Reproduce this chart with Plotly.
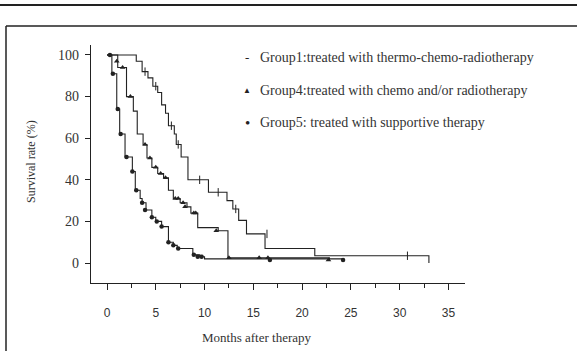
import plotly.graph_objects as go

# ---- data ----
g1_t = [0, 3.0, 3.6, 4.2, 4.7, 5.2, 5.6, 6.0, 6.3, 6.9, 7.1, 7.6, 8.3, 10.4, 12.3, 12.9, 13.5, 14.3, 16.2, 21.3, 33.0]
g1_s = [100, 97, 92, 89, 85, 82, 76, 72, 66, 62, 57, 51, 40, 34, 30, 26, 20.5, 14, 7, 3.5, 0]
g1_ct = [3.9, 5.0, 6.6, 7.3, 9.5, 11.4, 13.2, 16.4, 30.8]
g1_cs = [92, 85, 66, 57, 40, 34, 26, 14, 3.5]

g4_t = [0, 1.1, 2.0, 2.7, 3.1, 3.7, 4.1, 4.6, 5.2, 5.8, 6.3, 6.8, 7.5, 8.2, 8.6, 9.3, 11.4, 12.4, 22.8]
g4_s = [100, 94, 80, 73, 62, 57, 50.5, 46, 43, 41, 35, 31, 29, 27, 24, 17, 15.5, 2.5, 1.5]
g4_ct = [1.0, 1.6, 2.4, 3.9, 4.4, 5.0, 5.5, 6.0, 7.0, 7.3, 7.8, 8.0, 8.9, 9.1, 11.2, 12.5, 15.6, 16.5, 22.7]
g4_cs = [97, 94, 80, 57, 50.5, 46, 43, 41, 31, 31, 29, 27, 24, 24, 15.5, 2.5, 2.5, 2.5, 1.5]

g5_t = [0, 0.5, 1.0, 1.3, 1.85, 2.6, 2.9, 3.4, 3.6, 4.0, 4.6, 5.0, 5.6, 6.3, 6.8, 7.2, 8.8, 9.5, 10.0, 24.2]
g5_s = [100, 91, 74, 62, 51, 44, 35, 31, 29, 25.5, 22, 20, 17.5, 10, 8.5, 7, 4, 3, 2, 1.5]
g5_ct = [0.3, 0.6, 1.1, 1.4, 2.0, 2.6, 3.0, 3.6, 3.9, 4.6, 5.1, 5.6, 6.3, 6.8, 7.3, 8.9, 9.3, 9.7, 16.7, 24.2]
g5_cs = [100, 91, 74, 62, 51, 44, 35, 29, 25.5, 22, 20, 17.5, 10, 8.5, 7, 4, 3, 3, 1.5, 1.5]

x_ticks = [0, 5, 10, 15, 20, 25, 30, 35]
y_ticks = [0, 20, 40, 60, 80, 100]

legend_labels = [
    "Group1:treated with thermo-chemo-radiotherapy",
    "Group4:treated with chemo and/or radiotherapy",
    "Group5: treated with supportive therapy",
]
legend_symbols = ["-", "▲", "•"]
legend_symbol_sizes = [13, 8, 15]

INK = "#222222"

fig = go.Figure()
for t, s in [(g1_t, g1_s), (g4_t, g4_s), (g5_t, g5_s)]:
    fig.add_trace(go.Scatter(x=t, y=s, mode="lines", line=dict(color=INK, width=1.1, shape="hv"),
                             showlegend=False, hoverinfo="skip"))
fig.add_trace(go.Scatter(x=g1_ct, y=g1_cs, mode="markers",
                         marker=dict(symbol="line-ns", size=6, line=dict(color=INK, width=1)), showlegend=False))
fig.add_trace(go.Scatter(x=g4_ct, y=g4_cs, mode="markers",
                         marker=dict(symbol="triangle-up", size=5, color=INK), showlegend=False))
fig.add_trace(go.Scatter(x=g5_ct, y=g5_cs, mode="markers",
                         marker=dict(symbol="circle", size=4.5, color=INK), showlegend=False))

W, H = 577, 351
L, R, T, B = 91, 112, 45, 68
pw, ph = W - L - R, H - T - B

def px(x):
    return (x - L) / pw

def py(y):
    return (H - B - y) / ph

annotations = []
for i, (sym, lab, ss) in enumerate(zip(legend_symbols, legend_labels, legend_symbol_sizes)):
    yy = 57 + i * 33
    annotations.append(dict(x=px(247), y=py(yy), xref="paper", yref="paper", text=sym, showarrow=False,
                            xanchor="center", yanchor="middle",
                            font=dict(family="Liberation Serif", size=ss, color=INK)))
    annotations.append(dict(x=px(258), y=py(yy), xref="paper", yref="paper", text=lab, showarrow=False,
                            xanchor="left", yanchor="middle",
                            font=dict(family="Liberation Serif", size=14, color="#333")))
annotations.append(dict(x=px(257), y=py(337), xref="paper", yref="paper", text="Months after therapy",
                        showarrow=False, xanchor="center", yanchor="middle",
                        font=dict(family="Liberation Serif", size=13, color="#333")))
annotations.append(dict(x=px(31), y=py(162), xref="paper", yref="paper", text="Survival rate (%)",
                        showarrow=False, xanchor="center", yanchor="middle", textangle=-90,
                        font=dict(family="Liberation Serif", size=12, color="#333")))

shapes = [
    dict(type="line", xref="paper", yref="paper", x0=px(0), x1=px(W), y0=py(5), y1=py(5),
         line=dict(color=INK, width=2)),
    dict(type="line", xref="paper", yref="paper", x0=px(6), x1=px(W), y0=py(26), y1=py(26),
         line=dict(color=INK, width=1.3)),
    dict(type="line", xref="paper", yref="paper", x0=px(6), x1=px(6), y0=py(26), y1=py(H),
         line=dict(color=INK, width=1.5)),
]

fig.update_layout(
    width=W, height=H, margin=dict(l=L, r=R, t=T, b=B),
    paper_bgcolor="white", plot_bgcolor="white",
    showlegend=False, annotations=annotations, shapes=shapes,
    xaxis=dict(range=[-1.64, 36.7], tickvals=x_ticks, ticktext=[str(v) for v in x_ticks],
               showgrid=False, zeroline=False, showline=True, linecolor=INK, linewidth=1.2,
               ticks="outside", ticklen=6, tickcolor=INK, tickwidth=1,
               minor=dict(dtick=2.5, tick0=0, ticks="outside", ticklen=4, tickcolor=INK, showgrid=False),
               tickfont=dict(family="Liberation Sans", size=12, color="#333"), ticklabelstandoff=12),
    yaxis=dict(range=[-9.6, 104.8], tickvals=y_ticks, ticktext=[str(v) for v in y_ticks],
               showgrid=False, zeroline=False, showline=True, linecolor=INK, linewidth=1.2,
               ticks="outside", ticklen=5, tickcolor=INK, tickwidth=1,
               tickfont=dict(family="Liberation Serif", size=14, color="#333"), ticklabelstandoff=3),
)

fig.write_html("out.html", config={"displayModeBar": False},
               post_script="document.body.style.margin='0';document.body.style.overflow='hidden';")
